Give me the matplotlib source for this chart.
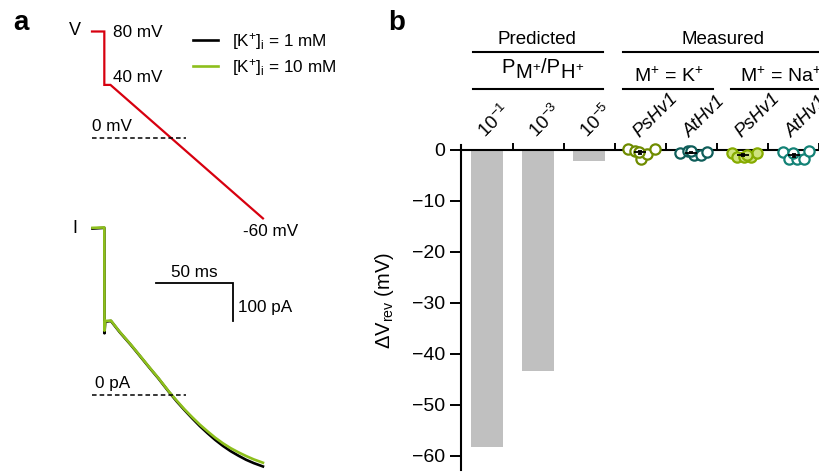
import matplotlib
matplotlib.use("Agg")
import matplotlib.pyplot as plt
import matplotlib.transforms as mtransforms
from matplotlib.lines import Line2D

plt.rcParams['font.family'] = ['Liberation Sans', 'DejaVu Sans']
plt.rcParams['mathtext.fontset'] = 'custom'
plt.rcParams['mathtext.rm'] = 'Liberation Sans'
plt.rcParams['mathtext.it'] = 'Liberation Sans:italic'
plt.rcParams['mathtext.bf'] = 'Liberation Sans:bold'

# ---------------- data ----------------
# Panel a: voltage protocol (ms, mV)
v_time = [0, 8, 8, 12, 111]
v_volt = [80, 80, 40, 40, -60]

# Panel a: current traces (ms, pA)
i_time = [0.3, 8.0, 8.1, 8.6, 12.3, 18, 25, 30, 37.5, 43, 50, 55, 60, 65, 70,
          75, 80, 85, 90, 95, 100, 105, 111]
i_1mM = [445, 447, 165, 196, 198, 168, 135, 110, 72, 45, 8, -17, -40, -62, -83,
         -102, -120, -136, -150, -162, -173, -182, -191]
i_10mM = [447, 448, 172, 198, 199, 169, 136, 111, 73, 46, 9, -15, -38, -59, -79,
          -97, -114, -129, -142, -153, -163, -172, -181]

# Panel b
pred_labels = ['10$\\mathregular{^{-1}}$', '10$\\mathregular{^{-3}}$', '10$\\mathregular{^{-5}}$']
pred_values = [-58.3, -43.3, -2.15]
meas_labels = ['PsHv1', 'AtHv1', 'PsHv1', 'AtHv1']
ps_k = [0.1, -0.3, -1.9, -0.8, 0.2, -0.5]
at_k = [-0.6, -0.2, -1.0, -1.0, -0.5, -0.3]
ps_na = [-0.7, -1.4, -1.4, -1.4, -0.7, -1.0]
at_na = [-0.4, -1.9, -1.9, -1.9, -0.2, -0.6]
meas_values = [ps_k, at_k, ps_na, at_na]
meas_offsets = [[-0.25, -0.1, 0.02, 0.13, 0.29, -0.02],
                [-0.23, -0.07, 0.05, 0.18, 0.30, 0.0],
                [-0.2, -0.1, 0.03, 0.16, 0.29, 0.08],
                [-0.2, -0.1, 0.07, 0.2, 0.3, -0.02]]
meas_edge = ['#6f8c00', '#0f5e5a', '#86ab00', '#138276']
meas_face = ['white', 'white', '#cfe37e', 'white']

W, H = 820, 473
fig = plt.figure(figsize=(W / 100, H / 100), dpi=100)


def fx(px):
    return px / W


def fy(py):
    return 1 - py / H


red = '#d7000f'
green = '#8dbf1c'

# ---------------- panel a: voltage ----------------
axV = fig.add_axes([fx(92), fy(245.1), 231 / W, 240.3 / H])
axV.set_xlim(0, 150)
axV.set_ylim(-80, 100)
axV.axis('off')
axV.plot(v_time, v_volt, color=red, lw=1.6, solid_joinstyle='miter', clip_on=False)
axV.plot([0, 61], [0, 0], color='black', lw=1.1, ls=(0, (3, 2)), clip_on=False)
fs_a = 12.3
axV.text(13.6, 79, '80 mV', fontsize=fs_a, ha='left', va='center')
axV.text(13.6, 45.5, '40 mV', fontsize=fs_a, ha='left', va='center')
axV.text(0.3, 8.5, '0 mV', fontsize=fs_a, ha='left', va='center')
axV.text(98, -69.5, '-60 mV', fontsize=fs_a, ha='left', va='center')
axV.text(-11, 80.5, 'V', fontsize=13, ha='center', va='center')

# ---------------- panel a: current ----------------
axI = fig.add_axes([fx(92), fy(471.7), 231 / W, 256.2 / H])
axI.set_xlim(0, 150)
axI.set_ylim(-205, 480)
axI.axis('off')
l1, = axI.plot(i_time, i_1mM, color='black', lw=1.9, clip_on=False,
               label='[K$\\mathregular{^{+}}$]$\\mathregular{_{i}}$ = 1 mM')
l2, = axI.plot(i_time, i_10mM, color=green, lw=1.9, clip_on=False,
               label='[K$\\mathregular{^{+}}$]$\\mathregular{_{i}}$ = 10 mM')
axI.plot([0, 61], [0, 0], color='black', lw=1.1, ls=(0, (3, 2)), clip_on=False)
axI.text(2, 32, '0 pA', fontsize=fs_a, ha='left', va='center')
axI.text(-11, 446, 'I', fontsize=13, ha='center', va='center')
# scale bars
axI.plot([41.6, 91.6, 91.6], [298.7, 298.7, 198.7], color='black', lw=1.3,
         solid_joinstyle='miter', clip_on=False)
axI.text(66.6, 327, '50 ms', fontsize=fs_a, ha='center', va='center')
axI.text(94.8, 234, '100 pA', fontsize=fs_a, ha='left', va='center')

fig.legend(handles=[l1, l2], loc='upper left', bbox_to_anchor=(fx(193), fy(31)),
           frameon=False, fontsize=fs_a, handlelength=1.45, handletextpad=0.85,
           labelspacing=0.28, borderpad=0, borderaxespad=0)

# panel letters
fig.text(fx(20.5), fy(30), 'a', fontsize=20, fontweight='bold', ha='center', va='baseline')
fig.text(fx(397), fy(30), 'b', fontsize=20, fontweight='bold', ha='center', va='baseline')

# ---------------- panel b ----------------
axB = fig.add_axes([fx(460.7), fy(470), (824.3 - 460.7) / W, 325 / H])
axB.set_xlim(-0.515, 6.6)
axB.set_ylim(-62.8, 0.9)
axB.bar(range(len(pred_values)), pred_values, width=0.62, color='#c0c0c0', zorder=1)

for k, (vals, offs) in enumerate(zip(meas_values, meas_offsets)):
    c = 3 + k
    xs = [c + o for o in offs]
    axB.plot(xs, vals, ls='none', marker='o', ms=7.4, mew=1.6,
             mec=meas_edge[k], mfc=meas_face[k], zorder=3, clip_on=False)
    m = sum(vals) / len(vals)
    sd = (sum((v - m) ** 2 for v in vals) / (len(vals) - 1)) ** 0.5
    sem = sd / len(vals) ** 0.5
    axB.errorbar([c], [m], yerr=[sem], fmt='_', color='black', ms=8, mew=1.3,
                 elinewidth=1.1, capsize=1.5, zorder=4, clip_on=False)

for s in ['top', 'right']:
    axB.spines[s].set_visible(False)
axB.spines['bottom'].set_position(('data', 0))
axB.spines['bottom'].set_linewidth(1.5)
axB.spines['left'].set_linewidth(1.5)
axB.set_xticks([])
axB.set_xticks([0.5 + i for i in range(7)], minor=True)
axB.tick_params(axis='x', which='minor', direction='in', length=5, width=1.4)
axB.set_yticks(range(-60, 1, 10))
axB.tick_params(axis='y', direction='out', length=8, width=1.4, labelsize=14, pad=3)
fig.text(fx(385), fy(300), 'ΔV$\\mathregular{_{rev}}$ (mV)', fontsize=14.5,
         rotation=90, ha='center', va='center')

# category labels
all_labels = pred_labels + meas_labels
for i, lab in enumerate(all_labels):
    style = 'italic' if i >= 3 else 'normal'
    axB.annotate(lab, xy=(i, 0), xytext=(-1, 8), textcoords='offset points',
                 rotation=45, rotation_mode='anchor', ha='left', va='baseline',
                 fontsize=13.5, fontstyle=style, annotation_clip=False)

# header
tr = mtransforms.blended_transform_factory(axB.transData, fig.transFigure)
fh = 13.5
axB.text(0.98, fy(44.3), 'Predicted', transform=tr, fontsize=fh, ha='center', va='baseline')
axB.text(4.61, fy(44.3), 'Measured', transform=tr, fontsize=fh, ha='center', va='baseline')
axB.text(3.56, fy(81.7), 'M$\\mathregular{^{+}}$ = K$\\mathregular{^{+}}$', transform=tr,
         fontsize=14, ha='center', va='baseline')
axB.text(4.95, fy(81.7), 'M$\\mathregular{^{+}}$ = Na$\\mathregular{^{+}}$', transform=tr,
         fontsize=14, ha='left', va='baseline')

# P_M+/P_H+ built from pieces (full-size lowered subscripts)
fp = 14.5
fsup = 9.5
tP = axB.text(0.29, fy(76.7), 'P', transform=tr, fontsize=fp, ha='left', va='bottom')
tM = axB.annotate('M', xy=(1, 0), xycoords=tP, xytext=(0.3, -3.6), textcoords='offset points',
                  fontsize=fp, ha='left', va='bottom')
tp1 = axB.annotate('+', xy=(1, 0), xycoords=tM, xytext=(0.3, 5.5), textcoords='offset points',
                   fontsize=fsup, ha='left', va='bottom')
tS = axB.annotate('/P', xy=(1, 0), xycoords=(tp1, tP), xytext=(0.3, 0), textcoords='offset points',
                  fontsize=fp, ha='left', va='bottom')
tH = axB.annotate('H', xy=(1, 0), xycoords=(tS, tM), xytext=(0.3, 0), textcoords='offset points',
                  fontsize=fp, ha='left', va='bottom')
axB.annotate('+', xy=(1, 0), xycoords=tH, xytext=(0.3, 5.5), textcoords='offset points',
             fontsize=fsup, ha='left', va='bottom')

for (x0, x1, ypx) in [(-0.27, 2.27, 52), (2.66, 7.5, 52), (-0.27, 2.27, 89.5),
                      (2.66, 4.42, 89.5), (4.77, 7.5, 89.5)]:
    axB.add_line(Line2D([x0, x1], [fy(ypx), fy(ypx)], transform=tr, color='black',
                        lw=1.5, clip_on=False))

fig.savefig('out.png', dpi=100)
